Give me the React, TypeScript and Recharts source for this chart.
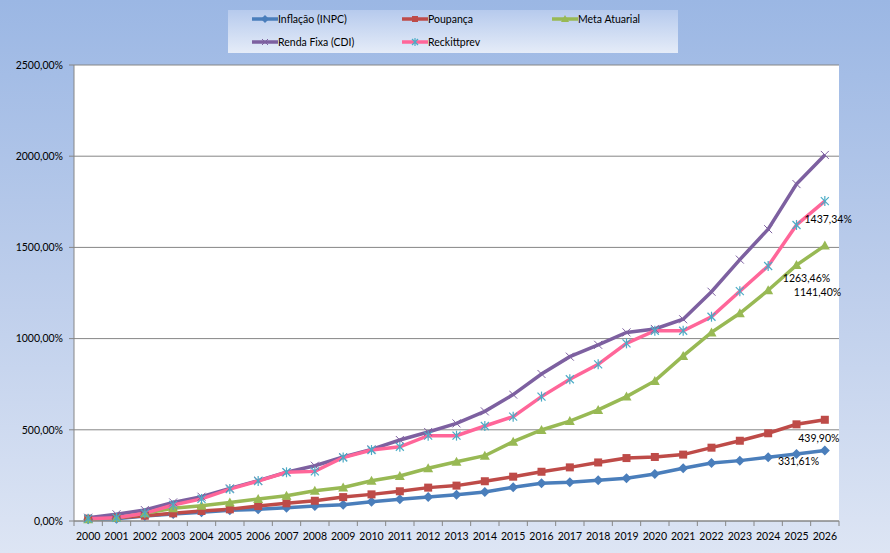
import { LineChart, Line, XAxis, YAxis, CartesianGrid, LabelList } from "recharts";

const years = [
  "2000", "2001", "2002", "2003", "2004", "2005", "2006", "2007", "2008",
  "2009", "2010", "2011", "2012", "2013", "2014", "2015", "2016", "2017",
  "2018", "2019", "2020", "2021", "2022", "2023", "2024", "2025", "2026",
];

const inflacao = [9, 13, 27, 38, 48, 59, 64, 73, 82, 89, 106, 119, 132, 144, 159, 185, 207, 212, 224, 234, 258, 289, 318, 331, 349, 367, 387];
const poupanca = [13, 18, 29, 42, 55, 64, 82, 97, 111, 131, 146, 163, 183, 194, 218, 243, 270, 294, 321, 345, 351, 364, 402, 440, 481, 530, 555];
const metaAtuarial = [9, 18, 42, 70, 84, 102, 121, 139, 166, 184, 221, 247, 289, 325, 358, 435, 499, 548, 609, 682, 768, 905, 1034, 1139, 1265, 1403, 1510];
const rendaFixa = [18, 37, 60, 102, 133, 179, 221, 267, 303, 351, 393, 444, 488, 535, 601, 693, 806, 901, 966, 1034, 1053, 1106, 1257, 1433, 1600, 1847, 2007];
const reckittprev = [13, 18, 42, 88, 121, 175, 219, 267, 272, 348, 389, 407, 468, 468, 521, 572, 682, 777, 859, 974, 1043, 1043, 1120, 1260, 1398, 1623, 1754];

const yTicks = [0, 500, 1000, 1500, 2000, 2500];

// data labels shown on the chart (series, point index, text)
const annotations = [
  { series: "reckittprev", index: 25, text: "1437,34%", dx: 8, dy: -2, anchor: "start" },
  { series: "meta", index: 25, text: "1263,46%", dx: 10, dy: 17, anchor: "middle" },
  { series: "meta", index: 25, text: "1141,40%", dx: 21, dy: 31, anchor: "middle" },
  { series: "poupanca", index: 26, text: "439,90%", dx: -6, dy: 22, anchor: "middle" },
  { series: "inflacao", index: 25, text: "331,61%", dx: 2, dy: 11, anchor: "middle" },
];

const data = years.map((year, i) => ({
  year,
  inflacao: inflacao[i],
  poupanca: poupanca[i],
  meta: metaAtuarial[i],
  renda: rendaFixa[i],
  reckittprev: reckittprev[i],
}));

const FONT = "Lato, 'Open Sans', sans-serif";
const AXIS = "#868686";
const W = 890;
const H = 553;
const MARGIN = { top: 65, right: 51, bottom: 0, left: 0 };
const Y_W = 74;
const BAND = (W - MARGIN.left - MARGIN.right - Y_W) / years.length;

const C = {
  inflacao: "#4a7ebb",
  poupanca: "#be4b48",
  meta: "#98b954",
  renda: "#7d60a0",
  reckLine: "#ff6699",
  reckMark: "#4bacc6",
};

type Shape = "diamond" | "square" | "triangle" | "x" | "star";

function Marker({ cx, cy, shape, r = 5 }: { cx: number; cy: number; shape: Shape; r?: number }) {
  if (cx == null || cy == null) return null;
  switch (shape) {
    case "diamond":
      return <path d={`M${cx},${cy - r}L${cx + r},${cy}L${cx},${cy + r}L${cx - r},${cy}Z`} fill={C.inflacao} />;
    case "square":
      return <rect x={cx - r + 1} y={cy - r + 1} width={(r - 1) * 2} height={(r - 1) * 2} fill={C.poupanca} />;
    case "triangle":
      return <path d={`M${cx},${cy - r}L${cx + r},${cy + r - 1}L${cx - r},${cy + r - 1}Z`} fill={C.meta} />;
    case "x":
      return (
        <g stroke={C.renda} strokeWidth={1}>
          <line x1={cx - r + 1} y1={cy - r + 1} x2={cx + r - 1} y2={cy + r - 1} />
          <line x1={cx - r + 1} y1={cy + r - 1} x2={cx + r - 1} y2={cy - r + 1} />
        </g>
      );
    default:
      return (
        <g stroke={C.reckMark} strokeWidth={1.2}>
          <line x1={cx - r + 1} y1={cy - r + 1} x2={cx + r - 1} y2={cy + r - 1} />
          <line x1={cx - r + 1} y1={cy + r - 1} x2={cx + r - 1} y2={cy - r + 1} />
          <line x1={cx} y1={cy - r} x2={cx} y2={cy + r} />
        </g>
      );
  }
}

const dotOf = (shape: Shape) => (props: any) => (
  <Marker key={`${shape}-${props.index}`} cx={props.cx} cy={props.cy} shape={shape} />
);

const labelOf = (series: string) => (props: any) => {
  const items = annotations.filter((a) => a.series === series && a.index === props.index);
  if (!items.length) return null;
  return (
    <g>
      {items.map((a) => (
        <text
          key={a.text}
          x={props.x + a.dx}
          y={props.y + a.dy}
          textAnchor={a.anchor as any}
          fontSize={10.5}
          fontFamily={FONT}
          fill="#000"
        >
          {a.text}
        </text>
      ))}
    </g>
  );
};

function YearTick(props: any) {
  const { x, y, payload, index } = props;
  const last = index === years.length - 1;
  return (
    <g>
      <line x1={x - BAND / 2} x2={x - BAND / 2} y1={y - 5} y2={y} stroke={AXIS} />
      {last && <line x1={x + BAND / 2} x2={x + BAND / 2} y1={y - 5} y2={y} stroke={AXIS} />}
      <text x={x} y={y + 14} textAnchor="middle" fontSize={10.5} fontFamily={FONT} fill="#000">
        {payload.value}
      </text>
    </g>
  );
}

const legendItems: { name: string; color: string; shape: Shape; markColor?: string }[] = [
  { name: "Inflação (INPC)", color: C.inflacao, shape: "diamond" },
  { name: "Poupança", color: C.poupanca, shape: "square" },
  { name: "Meta Atuarial", color: C.meta, shape: "triangle" },
  { name: "Renda Fixa (CDI)", color: C.renda, shape: "x" },
  { name: "Reckittprev", color: C.reckLine, shape: "star" },
];

function LegendBox() {
  return (
    <div
      style={{
        position: "absolute",
        left: 228,
        top: 10,
        width: 450,
        height: 43,
        background: "linear-gradient(180deg, #b6caed 0%, #e5ecf8 100%)",
        fontFamily: FONT,
        fontSize: 10.5,
        color: "#000",
      }}
    >
      {legendItems.map((it, i) => (
        <div
          key={it.name}
          style={{
            position: "absolute",
            left: 24 + (i % 3) * 150,
            top: i < 3 ? 2 : 25,
            height: 13,
            display: "flex",
            alignItems: "center",
            whiteSpace: "nowrap",
          }}
        >
          <svg width={26} height={12}>
            <line x1={0} x2={26} y1={6} y2={6} stroke={it.color} strokeWidth={3.5} />
            <Marker cx={13} cy={6} shape={it.shape} r={4} />
          </svg>
          <span>{it.name}</span>
        </div>
      ))}
    </div>
  );
}

export default function App() {
  return (
    <div
      style={{
        position: "absolute",
        left: 0,
        top: 0,
        width: W,
        height: H,
        background: "linear-gradient(180deg, #9bb7e4 0%, #bccdeb 50%, #dde5f4 100%)",
        fontFamily: FONT,
      }}
    >
      <LegendBox />
      <LineChart width={W} height={H} data={data} margin={MARGIN}>
        <CartesianGrid vertical={false} stroke={AXIS} fill="#ffffff" fillOpacity={1} />
        <XAxis
          dataKey="year"
          scale="band"
          interval={0}
          height={32}
          tickSize={5}
          tickMargin={0}
          tickLine={false}
          axisLine={{ stroke: AXIS }}
          tick={<YearTick />}
        />
        <YAxis
          width={Y_W}
          domain={[0, 2500]}
          ticks={yTicks}
          interval={0}
          tickSize={5}
          tickMargin={6}
          tickLine={{ stroke: AXIS }}
          axisLine={{ stroke: AXIS }}
          tick={{ fill: "#000", fontSize: 10.5, fontFamily: FONT }}
          tickFormatter={(v: number) => v.toFixed(2).replace(".", ",") + "%"}
        />
        <Line dataKey="inflacao" stroke={C.inflacao} strokeWidth={3.5} dot={dotOf("diamond")} activeDot={false} isAnimationActive={false}>
          <LabelList dataKey="inflacao" content={labelOf("inflacao")} />
        </Line>
        <Line dataKey="poupanca" stroke={C.poupanca} strokeWidth={3.5} dot={dotOf("square")} activeDot={false} isAnimationActive={false}>
          <LabelList dataKey="poupanca" content={labelOf("poupanca")} />
        </Line>
        <Line dataKey="meta" stroke={C.meta} strokeWidth={3.5} dot={dotOf("triangle")} activeDot={false} isAnimationActive={false}>
          <LabelList dataKey="meta" content={labelOf("meta")} />
        </Line>
        <Line dataKey="renda" stroke={C.renda} strokeWidth={3.5} dot={dotOf("x")} activeDot={false} isAnimationActive={false} />
        <Line dataKey="reckittprev" stroke={C.reckLine} strokeWidth={3.5} dot={dotOf("star")} activeDot={false} isAnimationActive={false}>
          <LabelList dataKey="reckittprev" content={labelOf("reckittprev")} />
        </Line>
      </LineChart>
    </div>
  );
}
